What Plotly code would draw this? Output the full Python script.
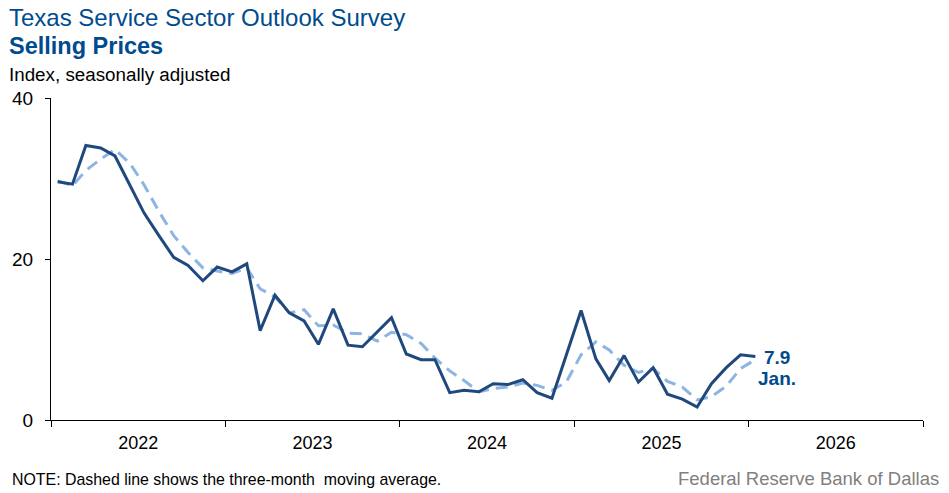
import plotly.graph_objects as go
import pandas as pd

months = pd.date_range("2022-01-01", periods=49, freq="MS") + pd.Timedelta(days=14)
dates = [d.strftime("%Y-%m-%d") for d in months]

selling_prices = [29.6, 29.3, 34.1, 33.8, 32.8, 29.1, 25.7, 22.9, 20.2, 19.2, 17.3, 19.0,
                  18.4, 19.4, 11.1, 15.5, 13.3, 12.3, 9.4, 13.8, 9.3, 9.1, 10.9, 12.7,
                  8.2, 7.5, 7.5, 3.4, 3.7, 3.5, 4.5, 4.4, 5.0, 3.4, 2.7, 8.0,
                  13.6, 7.6, 4.9, 8.0, 4.7, 6.5, 3.2, 2.6, 1.6, 4.5, 6.5, 8.1,
                  7.9]
moving_avg = [29.7, 29.1, 31.0, 32.4, 33.6, 31.9, 29.2, 25.9, 22.9, 20.8, 18.9, 18.5,
              18.2, 18.9, 16.3, 15.3, 13.3, 13.7, 11.7, 11.8, 10.8, 10.7, 9.8, 10.9,
              10.6, 9.5, 7.7, 6.1, 4.9, 3.5, 3.9, 4.1, 4.6, 4.3, 3.7, 4.7,
              8.1, 9.7, 8.7, 6.8, 5.9, 6.4, 4.8, 4.1, 2.5, 2.9, 4.2, 6.4,
              7.5]
y_ticks = [0, 20, 40]
last_label_value = "7.9"
last_label_month = "Jan."

FONT = "Liberation Sans, Arial, sans-serif"
DARK = "#1F497D"
LIGHT = "#8DB4E2"
TITLE = "#004B8D"

fig = go.Figure()
fig.add_trace(go.Scatter(x=dates, y=moving_avg, mode="lines",
                         line=dict(color=LIGHT, width=3, dash="12px,7px"),
                         hoverinfo="skip", showlegend=False))
fig.add_trace(go.Scatter(x=dates, y=selling_prices, mode="lines",
                         line=dict(color=DARK, width=3),
                         showlegend=False))

fig.update_layout(
    width=949, height=493,
    margin=dict(l=48, r=26, t=98, b=73),
    plot_bgcolor="white", paper_bgcolor="white",
    font=dict(family=FONT, color="black", size=18),
    xaxis=dict(type="date", range=["2022-01-01", "2027-01-01"],
               tick0="2022-01-01", dtick="M12", ticklabelmode="period",
               tickformat="%Y", ticks="outside", ticklen=6, tickcolor="black",
               showline=True, linecolor="black", linewidth=1.3,
               showgrid=False, zeroline=False,
               tickfont=dict(size=18, family=FONT, color="black")),
    yaxis=dict(range=[0, 40], tickvals=y_ticks, ticks="outside", ticklen=5,
               tickcolor="black", showline=True, linecolor="black", linewidth=1.3,
               showgrid=False, zeroline=False, ticklabelstandoff=8,
               tickfont=dict(size=19, family=FONT, color="black")),
)

def px_x(X):
    return (X - 48) / 875

def px_y(Y):
    return (420 - Y) / 322

anns = [
    dict(text="Texas Service Sector Outlook Survey", x=px_x(4), y=px_y(18),
         font=dict(size=24, color=TITLE, family=FONT)),
    dict(text="<b>Selling Prices</b>", x=px_x(4), y=px_y(46),
         font=dict(size=23.5, color=TITLE, family=FONT)),
    dict(text="Index, seasonally adjusted", x=px_x(4), y=px_y(74),
         font=dict(size=18.8, color="black", family=FONT)),
    dict(text="NOTE: Dashed line shows the three-month  moving average.", x=px_x(7), y=px_y(479),
         font=dict(size=15.9, color="black", family=FONT)),
]
for a in anns:
    fig.add_annotation(xref="paper", yref="paper", xanchor="left", yanchor="middle",
                       showarrow=False, **a)
fig.add_annotation(xref="paper", yref="paper", xanchor="right", yanchor="middle",
                   x=px_x(941), y=px_y(478), showarrow=False,
                   text="Federal Reserve Bank of Dallas",
                   font=dict(size=18.5, color="#808080", family=FONT))

fig.add_annotation(x=dates[-1], y=selling_prices[-1], xanchor="left", yanchor="middle",
                   xshift=7, yshift=-1, showarrow=False, text="<b>%s</b>" % last_label_value,
                   font=dict(size=19, color=TITLE, family=FONT))
fig.add_annotation(x=dates[-1], y=selling_prices[-1], xanchor="left", yanchor="middle",
                   xshift=1, yshift=-22, showarrow=False, text="<b>%s</b>" % last_label_month,
                   font=dict(size=19, color=TITLE, family=FONT))

fig.write_html("out.html", config={"displayModeBar": False},
               post_script="document.body.style.margin='0';document.body.style.overflow='hidden';")
